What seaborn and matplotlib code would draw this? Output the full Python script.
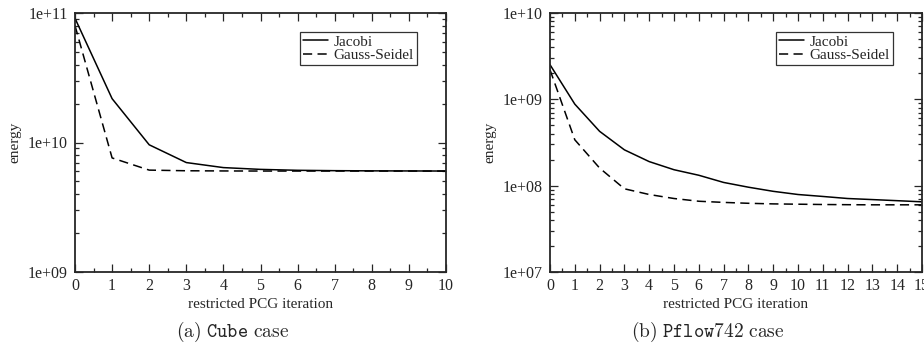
import math
import matplotlib
matplotlib.use('Agg')
import matplotlib.pyplot as plt
import matplotlib.ticker as mticker
import pandas as pd
import seaborn as sns

# (a) Cube case
cube_iter = list(range(11))
cube_jacobi = [9.1e10, 2.18e10, 9.6e9, 7.0e9, 6.4e9, 6.2e9, 6.1e9, 6.06e9, 6.04e9, 6.03e9, 6.02e9]
cube_gs = [8.0e10, 7.6e9, 6.12e9, 6.05e9, 6.03e9, 6.02e9, 6.02e9, 6.02e9, 6.02e9, 6.02e9, 6.02e9]

# (b) Pflow742 case
pflow_iter = list(range(16))
pflow_jacobi = [2.52e9, 8.8e8, 4.26e8, 2.6e8, 1.9e8, 1.53e8, 1.32e8, 1.09e8,
                9.6e7, 8.6e7, 7.9e7, 7.5e7, 7.1e7, 6.9e7, 6.7e7, 6.5e7]
pflow_gs = [2.2e9, 3.4e8, 1.6e8, 9.2e7, 7.9e7, 7.1e7, 6.6e7, 6.4e7,
            6.25e7, 6.15e7, 6.1e7, 6.05e7, 6.02e7, 6.0e7, 6.0e7, 6.0e7]

methods = ['Jacobi', 'Gauss-Seidel']

sns.set_style('ticks')
plt.rcParams['font.family'] = ['Liberation Serif', 'DejaVu Serif']
plt.rcParams['mathtext.fontset'] = 'cm'


def long_df(x, jac, gs):
    return pd.DataFrame({
        'iteration': list(x) * 2,
        'energy': list(jac) + list(gs),
        'method': [methods[0]] * len(x) + [methods[1]] * len(x),
    })


def draw_panel(ax, df, xmax, ylim):
    sns.lineplot(data=df, x='iteration', y='energy', hue='method', style='method',
                 palette={'Jacobi': 'black', 'Gauss-Seidel': 'black'},
                 dashes={'Jacobi': '', 'Gauss-Seidel': (6, 3.5)},
                 linewidth=1.1, ax=ax, legend=True)
    ax.set_yscale('log')
    ax.set_xlim(0, xmax)
    ax.set_ylim(*ylim)
    ax.xaxis.set_major_locator(mticker.MultipleLocator(1))
    ax.xaxis.set_minor_locator(mticker.MultipleLocator(0.5))
    ax.yaxis.set_major_locator(mticker.LogLocator(base=10, numticks=10))
    ax.yaxis.set_minor_locator(mticker.LogLocator(base=10, subs=range(2, 10), numticks=20))
    ax.yaxis.set_minor_formatter(mticker.NullFormatter())
    ax.yaxis.set_major_formatter(mticker.FuncFormatter(
        lambda v, p: '1e+%02d' % round(math.log10(v))))
    ax.tick_params(which='both', direction='in', top=True, right=True,
                   labelsize=11.5, width=0.9)
    ax.tick_params(axis='y', which='major', pad=5)
    ax.tick_params(axis='x', which='major', pad=4)
    ax.tick_params(which='major', length=6)
    ax.tick_params(which='minor', length=3)
    for s in ax.spines.values():
        s.set_linewidth(1.3)
    ax.set_xlabel('restricted PCG iteration', fontsize=11, labelpad=3)
    ax.set_ylabel('energy', fontsize=11, labelpad=5)
    leg = ax.legend(loc='upper right', bbox_to_anchor=(0.922, 0.927), fontsize=11,
                    frameon=True, fancybox=False, edgecolor='black',
                    handlelength=1.6, handletextpad=0.4, borderpad=0.2,
                    labelspacing=0.0, borderaxespad=0)
    leg.get_frame().set_linewidth(0.9)


fig = plt.figure(figsize=(9.24, 3.47), dpi=100)
ax1 = fig.add_axes([75 / 924, 1 - 272 / 347, 371 / 924, 259 / 347])
ax2 = fig.add_axes([550 / 924, 1 - 272 / 347, 372 / 924, 259 / 347])

draw_panel(ax1, long_df(cube_iter, cube_jacobi, cube_gs), 10, (1e9, 1e11))
draw_panel(ax2, long_df(pflow_iter, pflow_jacobi, pflow_gs), 15, (1e7, 1e10))

# captions with monospace case names
for pre, code, cx in [('(a)', 'Cube', 233), ('(b)', 'Pflow742', 708)]:
    fig.text(cx / 924, 1 - 332 / 347,
             '$\\mathrm{' + pre + '}\\ \\mathtt{' + code + '}\\ \\mathrm{case}$',
             fontsize=14, ha='center', va='center')

fig.savefig('out.png', dpi=100)
